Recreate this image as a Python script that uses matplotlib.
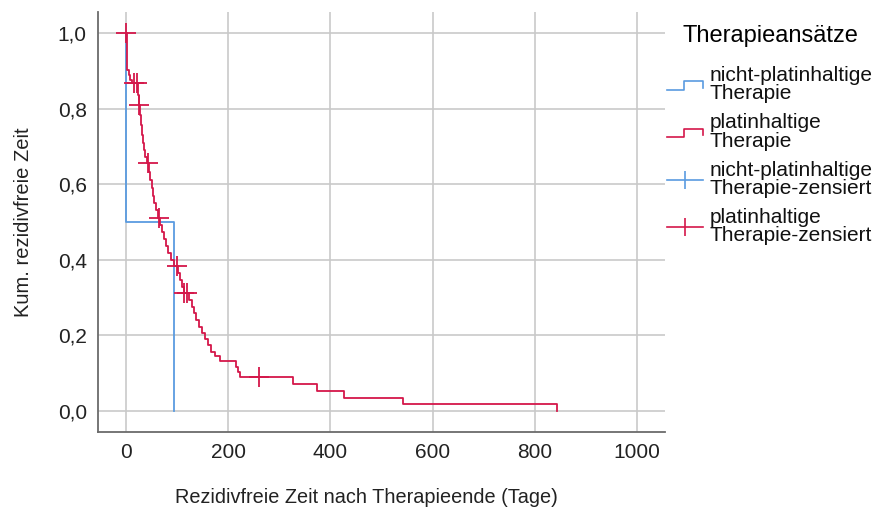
import numpy as np
import matplotlib
matplotlib.use("Agg")
import matplotlib.pyplot as plt
from matplotlib.lines import Line2D
from matplotlib.legend_handler import HandlerBase

# Kaplan-Meier steps (days, survival after the step)
blue_time = [0, 0, 94]
blue_surv = [1.0, 0.5, 0.0]

red_time = [0, 1, 2, 6, 8, 12, 23, 25, 27, 29, 31, 33, 35, 37, 41,
            45, 47, 51, 53, 55, 59, 63, 67, 70, 74, 78, 82, 88, 94, 102,
            106, 110, 113, 123, 129, 133, 137, 143, 149, 155, 160, 166, 174, 184,
            215, 219, 223, 327, 374, 427, 542, 843]
red_surv = [1.0, 0.955, 0.902, 0.889, 0.876, 0.868, 0.836, 0.81, 0.783, 0.757, 0.73, 0.709, 0.69, 0.672, 0.656,
            0.632, 0.611, 0.59, 0.569, 0.55, 0.532, 0.511, 0.492, 0.474, 0.455, 0.437, 0.418, 0.4, 0.384, 0.365,
            0.347, 0.328, 0.312, 0.294, 0.275, 0.259, 0.241, 0.222, 0.206, 0.19, 0.175, 0.156, 0.146, 0.132,
            0.116, 0.103, 0.09, 0.071, 0.053, 0.035, 0.0185, 0.0]

# censored observations (days)
red_cens = [0, 16, 22, 26, 43, 64, 99, 114, 120, 260]

x_ticks = [0, 200, 400, 600, 800, 1000]
y_ticks = [0.0, 0.2, 0.4, 0.6, 0.8, 1.0]
y_tick_labels = ["0,0", "0,2", "0,4", "0,6", "0,8", "1,0"]

labels = ["nicht-platinhaltige\nTherapie", "platinhaltige\nTherapie",
          "nicht-platinhaltige\nTherapie-zensiert", "platinhaltige\nTherapie-zensiert"]

blue = "#5A9BE0"
red = "#D4174A"
grid_c = "#C9C9C9"
spine_c = "#6B6B6B"

plt.rcParams['font.family'] = ['Liberation Sans', 'DejaVu Sans']


class StepHandler(HandlerBase):
    def create_artists(self, legend, orig_handle, xdescent, ydescent, width, height, fontsize, trans):
        xs = np.array([0, 0.47, 0.47, 1, 1]) * width - xdescent
        ys = np.array([0.15, 0.15, 0.75, 0.75, 0.3]) * height - ydescent
        line = Line2D(xs, ys, color=orig_handle.get_color(), lw=orig_handle.get_linewidth())
        line.set_transform(trans)
        return [line]


class CensHandler(HandlerBase):
    def create_artists(self, legend, orig_handle, xdescent, ydescent, width, height, fontsize, trans):
        yc = 0.45 * height - ydescent
        line = Line2D([-xdescent, width - xdescent], [yc, yc], color=orig_handle.get_color(),
                      lw=orig_handle.get_linewidth())
        mark = Line2D([0.5 * width - xdescent], [yc], color=orig_handle.get_color(), marker='|',
                      markersize=13, mew=1.2, linestyle='none')
        line.set_transform(trans)
        mark.set_transform(trans)
        return [line, mark]


fig = plt.figure(figsize=(8.77, 5.17), dpi=100)
ax = fig.add_axes([0.1117, 0.1644, 0.6466, 0.8124])

ax.step(blue_time, blue_surv, where='post', color=blue, lw=1.3, zorder=3)
ax.step(red_time, red_surv, where='post', color=red, lw=1.3, zorder=4)

idx = np.searchsorted(red_time, red_cens, side='right') - 1
ax.plot(red_cens, np.array(red_surv)[idx], linestyle='none', marker='+', markersize=14,
        mew=1.3, color=red, zorder=5)

ax.set_xlim(-55, 1055)
ax.set_ylim(-0.0556, 1.0556)
ax.set_xticks(x_ticks)
ax.set_yticks(y_ticks)
ax.set_yticklabels(y_tick_labels)
ax.tick_params(length=0, labelsize=15, colors="#222222")
ax.tick_params(axis='x', pad=8)
ax.tick_params(axis='y', pad=8)
ax.grid(True, color=grid_c, lw=1.2)
ax.set_axisbelow(True)
for s in ['top', 'right']:
    ax.spines[s].set_visible(False)
for s in ['left', 'bottom']:
    ax.spines[s].set_color(spine_c)
    ax.spines[s].set_linewidth(1.3)

fig.text(0.418, 0.038, "Rezidivfreie Zeit nach Therapieende (Tage)", ha='center', va='center',
         fontsize=14.3, color="#222222")
fig.text(0.027, 0.57, "Kum. rezidivfreie Zeit", ha='center', va='center', rotation=90,
         fontsize=14.5, color="#222222")

h_blue = Line2D([], [], color=blue, lw=1.2)
h_red = Line2D([], [], color=red, lw=1.2)
h_blue_c = Line2D([], [], color=blue, lw=1.2)
h_red_c = Line2D([], [], color=red, lw=1.2)

leg = fig.legend([h_blue, h_red, h_blue_c, h_red_c], labels,
                 handler_map={h_blue: StepHandler(), h_red: StepHandler(),
                              h_blue_c: CensHandler(), h_red_c: CensHandler()},
                 loc='upper left', bbox_to_anchor=(0.749, 0.971), frameon=False,
                 title="Therapieansätze", fontsize=15, title_fontsize=17,
                 handlelength=1.7, handletextpad=0.35, labelspacing=0.48,
                 borderpad=0.5, borderaxespad=0)
leg._legend_box.sep = 13.5  # extra gap between title and entries
for t in leg.get_texts():
    t.set_linespacing(0.95)
    t.set_color("#111111")

fig.savefig("out.png", dpi=100)
